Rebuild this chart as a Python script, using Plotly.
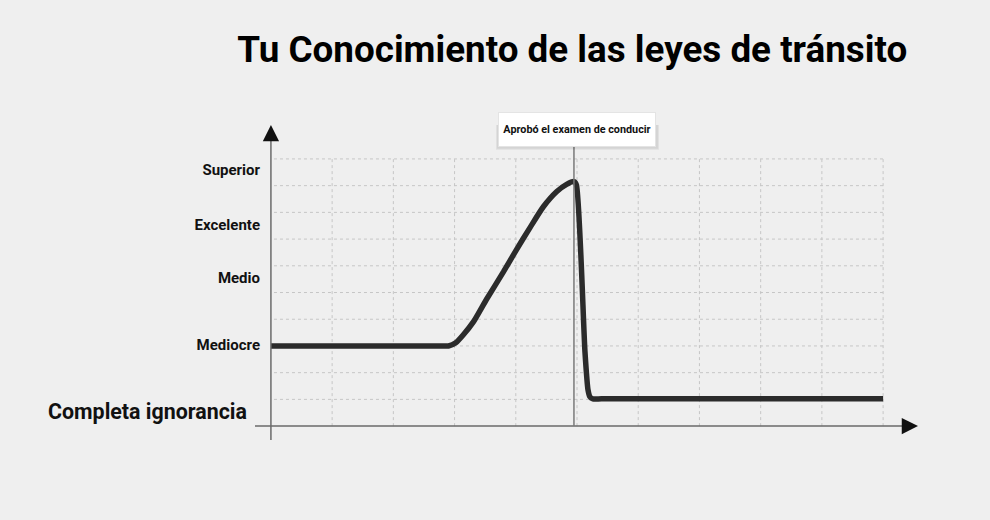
import plotly.graph_objects as go

# ---- data ----
curve_x = [0, 2.75, 2.9, 3.02, 3.14, 3.31, 3.52, 3.80, 4.01, 4.23, 4.45, 4.67, 4.83, 4.95, 4.99, 5.13, 5.18, 5.21, 5.26, 5.4, 10]
curve_y = [3.0, 3.0, 3.0, 3.12, 3.41, 3.91, 4.74, 5.78, 6.6, 7.42, 8.21, 8.78, 9.05, 9.15, 9.03, 2.78, 1.35, 1.1, 1.02, 1.02, 1.02]

level_labels = ["Mediocre", "Medio", "Excelente", "Superior"]
level_values = [3.05, 5.55, 7.55, 9.6]
bottom_label = "Completa ignorancia"
bottom_value = 0.56

grid_x = [1, 2, 3, 4, 5, 6, 7, 8, 9, 10]
grid_y = [1, 2, 3, 4, 5, 6, 7, 8, 9, 10]

event_x = 4.95
event_label = "Aprobó el examen de conducir"
title_text = "Tu Conocimiento de las leyes de tránsito"

X_RANGE = [-0.26, 10.57]
Y_RANGE = [-0.52, 11.27]

FONT = "Roboto, Liberation Sans, Arial, sans-serif"
BG = "#efefef"

fig = go.Figure()

fig.add_trace(go.Scatter(
    x=curve_x, y=curve_y, mode="lines",
    line=dict(color="#2b2b2b", width=5.5, shape="spline", smoothing=0.6),
    hoverinfo="skip", showlegend=False,
))

shapes = []
for gx in grid_x:
    shapes.append(dict(type="line", xref="x", yref="y", x0=gx, x1=gx, y0=0, y1=10,
                       line=dict(color="#c6c6c6", width=1, dash="dot"), layer="below"))
for gy in grid_y:
    shapes.append(dict(type="line", xref="x", yref="y", x0=0.05, x1=10, y0=gy, y1=gy,
                       line=dict(color="#c6c6c6", width=1, dash="dot"), layer="below"))
# axes
shapes.append(dict(type="line", xref="x", yref="y", x0=X_RANGE[0], x1=10.35, y0=0, y1=0,
                   line=dict(color="#6a6a6a", width=1.5)))
shapes.append(dict(type="line", xref="x", yref="y", x0=0, x1=0, y0=Y_RANGE[0], y1=10.8,
                   line=dict(color="#6a6a6a", width=1.5)))
# event marker line
shapes.append(dict(type="line", xref="x", yref="y", x0=event_x, x1=event_x, y0=0, y1=10.45,
                   line=dict(color="#7a7a7a", width=1.5)))
# soft shadow behind the event label box
shapes.append(dict(type="rect", xref="x", yref="y", xsizemode="pixel", ysizemode="pixel",
                   xanchor=event_x, yanchor=11.09, x0=-78, x1=85, y0=-20, y1=16,
                   fillcolor="rgba(0,0,0,0.06)", line=dict(width=0), layer="above"))
shapes.append(dict(type="rect", xref="x", yref="y", xsizemode="pixel", ysizemode="pixel",
                   xanchor=event_x, yanchor=11.09, x0=-77, x1=84, y0=-19, y1=17,
                   fillcolor="rgba(0,0,0,0.05)", line=dict(width=0), layer="above"))

annotations = [
    dict(x=X_RANGE[1], y=0, ax=10.3, ay=0, xref="x", yref="y", axref="x", ayref="y",
         text="", showarrow=True, arrowhead=2, arrowsize=1.3, arrowwidth=2.5, arrowcolor="#111111"),
    dict(x=0, y=Y_RANGE[1], ax=0, ay=10.7, xref="x", yref="y", axref="x", ayref="y",
         text="", showarrow=True, arrowhead=2, arrowsize=1.3, arrowwidth=2.5, arrowcolor="#111111"),
    dict(x=event_x, y=11.09, xref="x", yref="y", xshift=3, text="<b>" + event_label + "</b>",
         showarrow=False, font=dict(family=FONT, size=10.8, color="#111111"),
         width=154, height=31, align="center", valign="middle",
         bgcolor="#ffffff", bordercolor="#e4e4e4", borderwidth=1, borderpad=1),
    dict(x=0, y=bottom_value, xref="x", yref="y", text="<b>" + bottom_label + "</b>",
         showarrow=False, xanchor="right", xshift=-22,
         font=dict(family=FONT, size=21.4, color="#111111")),
]

fig.update_layout(
    width=990, height=520,
    paper_bgcolor=BG, plot_bgcolor=BG,
    margin=dict(l=255, r=72, t=125, b=80),
    shapes=shapes, annotations=annotations,
    showlegend=False,
    title=dict(text="<b>" + title_text + "</b>", xref="container", yref="container",
               x=0.578, y=0.905, xanchor="center", yanchor="middle",
               font=dict(family=FONT, size=36.8, color="#000000")),
    xaxis=dict(range=X_RANGE, showgrid=False, zeroline=False, showticklabels=False,
               showline=False, fixedrange=True),
    yaxis=dict(range=Y_RANGE, showgrid=False, zeroline=False, showline=False,
               tickmode="array", tickvals=level_values,
               ticktext=["<b>" + t + "</b>" for t in level_labels],
               tickfont=dict(family=FONT, size=15, color="#111111"),
               ticks="", ticklabelstandoff=-6, fixedrange=True),
)

fig.write_html("out.html", config={"displayModeBar": False},
               post_script="document.body.style.margin='0';")
